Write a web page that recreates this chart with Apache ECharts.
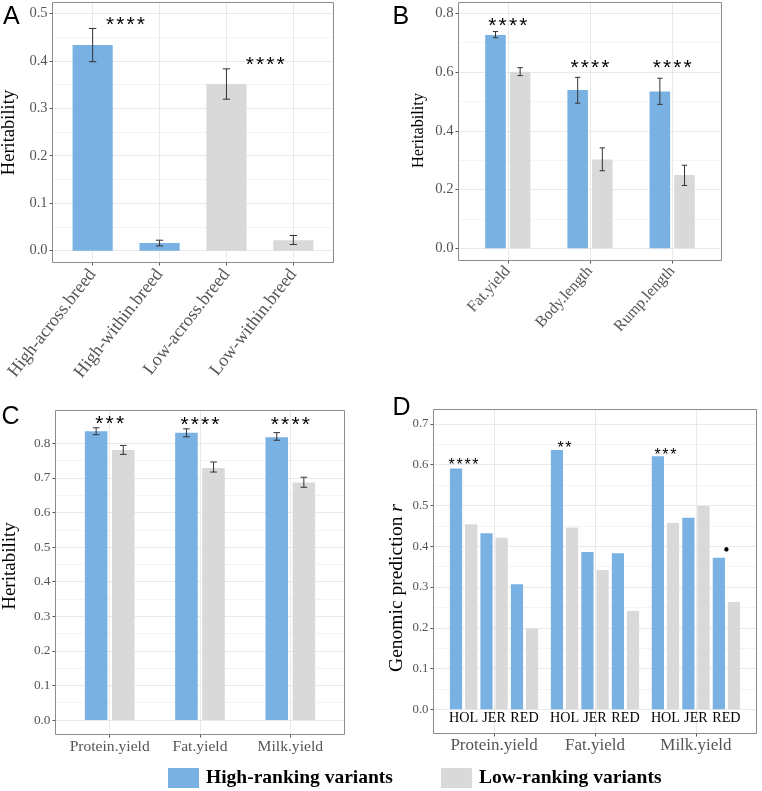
<!DOCTYPE html>
<html><head><meta charset="utf-8">
<script src="https://cdn.jsdelivr.net/npm/echarts@6/dist/echarts.min.js"></script>
<style>html,body{margin:0;padding:0;background:#fff}#c{width:762px;height:791px}</style>
</head><body><div id="c"></div>
<script>
// ---------- DATA ----------
const seriesNames = ['High-ranking variants', 'Low-ranking variants'];

// Panel A
const aCategories = ['High-across.breed', 'High-within.breed', 'Low-across.breed', 'Low-within.breed'];
const aGroup = ['High', 'High', 'Low', 'Low'];
const aValues = [0.433, 0.016, 0.351, 0.022];
const aErrLow = [0.398, 0.010, 0.319, 0.013];
const aErrHigh = [0.468, 0.022, 0.383, 0.032];
const aStarText = ['****', '****'];
const aStarCat = [0, 2];
const aStarShift = [0.49, 0.58];
const aStarY = [0.484, 0.400];
const aYTicks = [0, 0.1, 0.2, 0.3, 0.4, 0.5];

// Panel B
const bCategories = ['Fat.yield', 'Body.length', 'Rump.length'];
const bHigh = [0.726, 0.539, 0.534];
const bLow = [0.601, 0.302, 0.250];
const bHighErrLow = [0.717, 0.494, 0.490];
const bHighErrHigh = [0.738, 0.582, 0.579];
const bLowErrLow = [0.588, 0.264, 0.214];
const bLowErrHigh = [0.615, 0.342, 0.283];
const bStarText = ['****', '****', '****'];
const bStarY = [0.7715, 0.6275, 0.6275];
const bYTicks = [0, 0.2, 0.4, 0.6, 0.8];

// Panel C
const cCategories = ['Protein.yield', 'Fat.yield', 'Milk.yield'];
const cHigh = [0.835, 0.831, 0.818];
const cLow = [0.781, 0.729, 0.687];
const cHighErrLow = [0.825, 0.819, 0.809];
const cHighErrHigh = [0.845, 0.842, 0.831];
const cLowErrLow = [0.768, 0.717, 0.673];
const cLowErrHigh = [0.794, 0.746, 0.702];
const cStarText = ['***', '****', '****'];
const cStarY = [0.870, 0.867, 0.867];
const cYTicks = [0, 0.1, 0.2, 0.3, 0.4, 0.5, 0.6, 0.7, 0.8];

// Panel D
const dTraits = ['Protein.yield', 'Fat.yield', 'Milk.yield'];
const dBreeds = ['HOL', 'JER', 'RED'];
const dProteinHigh = [0.591, 0.432, 0.307];
const dProteinLow = [0.454, 0.421, 0.198];
const dFatHigh = [0.636, 0.386, 0.383];
const dFatLow = [0.446, 0.342, 0.241];
const dMilkHigh = [0.621, 0.470, 0.372];
const dMilkLow = [0.457, 0.499, 0.263];
const dStarText = ['****', '**', '***', '\u2022'];
const dStarTrait = [0, 1, 2, 2];
const dStarBreed = [0, 0, 0, 2];
const dStarY = [0.607, 0.648, 0.630, 0.389];
const dYTicks = [0, 0.1, 0.2, 0.3, 0.4, 0.5, 0.6, 0.7];

// ---------- STYLE / LAYOUT ----------
const BLUE = '#79b1e3', GRAY = '#d9d9d9';
const SERIF = '"Liberation Serif", "Times New Roman", serif';
const SANS = '"Liberation Sans", Arial, sans-serif';
const TXT = '#555555', GRIDC = '#e9e9e9', MINORC = '#f4f4f4', FRAMEC = '#8c8c8c', ERRC = '#333333';

const grids = [], xAxes = [], yAxes = [], series = [], graphics = [];
function addGrid(g, xa, ya) {
  grids.push(Object.assign({containLabel: false}, g));
  const i = grids.length - 1;
  xAxes.push(Object.assign({gridIndex: i}, xa));
  yAxes.push(Object.assign({gridIndex: i}, ya));
  return i;
}

function panel(P) {
  const H = P.b - P.t, W = P.r - P.l;
  const u = W / (P.cats.length + 0.2);
  const yOf = v => P.t + (P.hi - v) / (P.hi - P.lo) * H;
  const ticks = P.yTicks;
  const yMax = ticks[ticks.length - 1];
  const yStep = ticks[1] - ticks[0];
  addGrid({left: P.l, top: yOf(yMax), width: W, height: yOf(0) - yOf(yMax)},
    {type: 'value', show: false, min: 0, max: 1},
    {type: 'value', min: 0, max: yMax, interval: yStep,
      axisLine: {show: false, onZero: false},
      axisTick: {show: true, length: 3, lineStyle: {color: TXT}},
      axisLabel: {margin: 5, color: TXT, fontFamily: SERIF, fontSize: P.yFont, formatter: v => v.toFixed(1)},
      splitLine: {show: true, lineStyle: {color: GRIDC, width: 1}},
      minorTick: {show: false, splitNumber: 2},
      minorSplitLine: {show: true, lineStyle: {color: MINORC, width: 1}}});
  const band = addGrid({left: P.l + 0.1 * u, top: P.t, width: P.cats.length * u, height: H},
    {type: 'category', data: P.cats,
      axisLine: {show: false, onZero: false},
      axisTick: {show: true, alignWithLabel: true, length: 3, lineStyle: {color: TXT}},
      splitLine: {show: true, alignWithLabel: true, lineStyle: {color: GRIDC, width: 1}},
      axisLabel: {interval: 0, rotate: P.rot || 0, margin: P.xMargin, color: TXT, fontFamily: SERIF, fontSize: P.xFont}},
    {type: 'value', show: false, min: P.lo, max: P.hi});
  graphics.push({type: 'rect', shape: {x: P.l, y: P.t, width: W, height: H},
    style: {fill: null, stroke: FRAMEC, lineWidth: 1}, z: 100, silent: true});
  graphics.push({type: 'text', x: P.letterX, y: P.letterY,
    style: {text: P.letter, font: '25px ' + SANS, fill: '#000', align: 'left', verticalAlign: 'middle'}});
  graphics.push({type: 'text', x: P.titleX, y: P.titleY, rotation: Math.PI / 2,
    style: Object.assign({text: P.title, font: P.titleFont + 'px ' + SERIF, fill: '#000', align: 'center', verticalAlign: 'middle'}, P.titleRich ? {rich: P.titleRich} : {})});
  return {band, u, yOf};
}

function errSeries(gi, lows, highs, offFrac, capFrac) {
  return {type: 'custom', xAxisIndex: gi, yAxisIndex: gi, z: 5, silent: true,
    data: lows.map((lo, i) => [i, lo, highs[i]]),
    renderItem: (params, api) => {
      const c = api.value(0);
      const p1 = api.coord([c, api.value(1)]), p2 = api.coord([c, api.value(2)]);
      const bw = api.size([1, 0])[0];
      const x = p1[0] + offFrac * bw, hw = capFrac * bw / 2;
      const st = {stroke: ERRC, lineWidth: 1};
      return {type: 'group', children: [
        {type: 'line', shape: {x1: x, y1: p1[1], x2: x, y2: p2[1]}, style: st},
        {type: 'line', shape: {x1: x - hw, y1: p1[1], x2: x + hw, y2: p1[1]}, style: st},
        {type: 'line', shape: {x1: x - hw, y1: p2[1], x2: x + hw, y2: p2[1]}, style: st}]};
    }};
}

// significance marks: each asterisk drawn as its own glyph with a fixed pitch
function starSeries(gi, cats, ys, texts, shifts, fontSize, pitch) {
  return {type: 'custom', xAxisIndex: gi, yAxisIndex: gi, z: 6, silent: true,
    data: cats.map((c, i) => [c, ys[i]]),
    renderItem: (params, api) => {
      const i = params.dataIndex;
      const p = api.coord([api.value(0), api.value(1)]);
      const bw = api.size([1, 0])[0];
      const t = texts[i];
      const cx = p[0] + (shifts ? shifts[i] : 0) * bw;
      if (t === '\u2022') {
        return {type: 'text', x: cx, y: p[1] + 1,
          style: {text: t, font: (fontSize + 2) + 'px ' + SERIF, fill: '#000', align: 'center', verticalAlign: 'middle'}};
      }
      const n = t.length, children = [];
      for (let k = 0; k < n; k++) {
        children.push({type: 'text', x: cx + (k - (n - 1) / 2) * pitch, y: p[1] + fontSize * 0.22,
          style: {text: '*', font: fontSize + 'px ' + SANS, fill: '#000', align: 'center', verticalAlign: 'middle'}});
      }
      return {type: 'group', children};
    }};
}

// ---------- PANEL A ----------
const A = panel({l: 52.5, r: 333.5, t: 2.5, b: 262.5, lo: -0.0249, hi: 0.5227, cats: aCategories, yTicks: aYTicks,
  yFont: 14.5, xFont: 18, rot: 52, xMargin: 9, letter: 'A', letterX: 3, letterY: 17,
  title: 'Heritability', titleFont: 18.5, titleX: 9, titleY: 132.5});
series.push({name: seriesNames[0], type: 'bar', xAxisIndex: A.band, yAxisIndex: A.band, barWidth: '60%', barGap: '-100%',
  itemStyle: {color: BLUE}, data: aValues.map((v, i) => aGroup[i] === 'High' ? v : '-')});
series.push({name: seriesNames[1], type: 'bar', xAxisIndex: A.band, yAxisIndex: A.band, barWidth: '60%', barGap: '-100%',
  itemStyle: {color: GRAY}, data: aValues.map((v, i) => aGroup[i] === 'Low' ? v : '-')});
series.push(errSeries(A.band, aErrLow, aErrHigh, 0, 0.11));
series.push(starSeries(A.band, aStarCat, aStarY, aStarText, aStarShift, 21, 10.3));

// ---------- PANEL B ----------
const B = panel({l: 458.5, r: 721.5, t: 2.5, b: 260.5, lo: -0.0415, hi: 0.8369, cats: bCategories, yTicks: bYTicks,
  yFont: 14.7, xFont: 15.8, rot: 48, xMargin: 8, letter: 'B', letterX: 392.5, letterY: 17,
  title: 'Heritability', titleFont: 16.3, titleX: 418.5, titleY: 130.5});
series.push({name: seriesNames[0], type: 'bar', xAxisIndex: B.band, yAxisIndex: B.band, barWidth: '25%', barGap: '20%',
  itemStyle: {color: BLUE}, data: bHigh});
series.push({name: seriesNames[1], type: 'bar', xAxisIndex: B.band, yAxisIndex: B.band, barWidth: '25%', barGap: '20%',
  itemStyle: {color: GRAY}, data: bLow});
series.push(errSeries(B.band, bHighErrLow, bHighErrHigh, -0.15, 0.065));
series.push(errSeries(B.band, bLowErrLow, bLowErrHigh, 0.15, 0.065));
series.push(starSeries(B.band, [0, 1, 2], bStarY, bStarText, null, 21, 10.3));

// ---------- PANEL C ----------
const C = panel({l: 55.5, r: 344.5, t: 410.5, b: 734.5, lo: -0.0419, hi: 0.895, cats: cCategories, yTicks: cYTicks,
  yFont: 13.3, xFont: 15.6, rot: 0, xMargin: 4, letter: 'C', letterX: 1.5, letterY: 417,
  title: 'Heritability', titleFont: 19, titleX: 10, titleY: 566});
series.push({name: seriesNames[0], type: 'bar', xAxisIndex: C.band, yAxisIndex: C.band, barWidth: '25%', barGap: '20%',
  itemStyle: {color: BLUE}, data: cHigh});
series.push({name: seriesNames[1], type: 'bar', xAxisIndex: C.band, yAxisIndex: C.band, barWidth: '25%', barGap: '20%',
  itemStyle: {color: GRAY}, data: cLow});
series.push(errSeries(C.band, cHighErrLow, cHighErrHigh, -0.15, 0.074));
series.push(errSeries(C.band, cLowErrLow, cLowErrHigh, 0.15, 0.074));
series.push(starSeries(C.band, [0, 1, 2], cStarY, cStarText, null, 21, 10.3));

// ---------- PANEL D ----------
const DP = {l: 433.5, r: 756.5, t: 409.5, b: 733.5, lo: -0.0594, hi: 0.7355, cats: dTraits, yTicks: dYTicks,
  yFont: 12.8, xFont: 17, rot: 0, xMargin: 4, letter: 'D', letterX: 392.5, letterY: 408,
  title: 'Genomic prediction {i|r}', titleFont: 19.5, titleX: 397, titleY: 588,
  titleRich: {i: {fontStyle: 'italic', fontFamily: SERIF, fontSize: 19.5, fill: '#000'}}};
const D = panel(DP);
const dHighs = [dProteinHigh, dFatHigh, dMilkHigh];
const dLows = [dProteinLow, dFatLow, dMilkLow];
const dSub = [];
dTraits.forEach((tr, g) => {
  const s = 0.302 * D.u;
  const cx = DP.l + (0.6 + g) * D.u;
  const gi = addGrid({left: cx - 1.5 * s, top: DP.t, width: 3 * s, height: D.yOf(0) - DP.t},
    {type: 'category', data: dBreeds, axisLine: {show: false, onZero: false}, axisTick: {show: false}, splitLine: {show: false},
      axisLabel: {interval: 0, margin: 2, color: '#000', fontFamily: SERIF, fontSize: 14.2}},
    {type: 'value', show: false, min: 0, max: DP.hi});
  dSub.push(gi);
  series.push({name: seriesNames[0], type: 'bar', xAxisIndex: gi, yAxisIndex: gi, barWidth: '40%', barGap: '24%',
    itemStyle: {color: BLUE}, data: dHighs[g]});
  series.push({name: seriesNames[1], type: 'bar', xAxisIndex: gi, yAxisIndex: gi, barWidth: '40%', barGap: '24%',
    itemStyle: {color: GRAY}, data: dLows[g]});
});
dTraits.forEach((tr, g) => {
  const idx = dStarTrait.map((t, i) => t === g ? i : -1).filter(i => i >= 0);
  if (idx.length) series.push(starSeries(dSub[g], idx.map(i => dStarBreed[i]), idx.map(i => dStarY[i]), idx.map(i => dStarText[i]), null, 16, 7.9));
});

const chart = echarts.init(document.getElementById('c'), null, {renderer: 'canvas'});
chart.setOption({
  animation: false,
  backgroundColor: '#fff',
  grid: grids, xAxis: xAxes, yAxis: yAxes, series: series, graphic: graphics,
  legend: {data: seriesNames, left: 168, top: 768, padding: 0, itemWidth: 31, itemHeight: 20, itemGap: 48, icon: 'rect',
    selectedMode: false, textStyle: {fontFamily: SERIF, fontWeight: 'bold', fontSize: 19.5, color: '#000', padding: [0, 0, 0, 2]}}
});
</script></body></html>
